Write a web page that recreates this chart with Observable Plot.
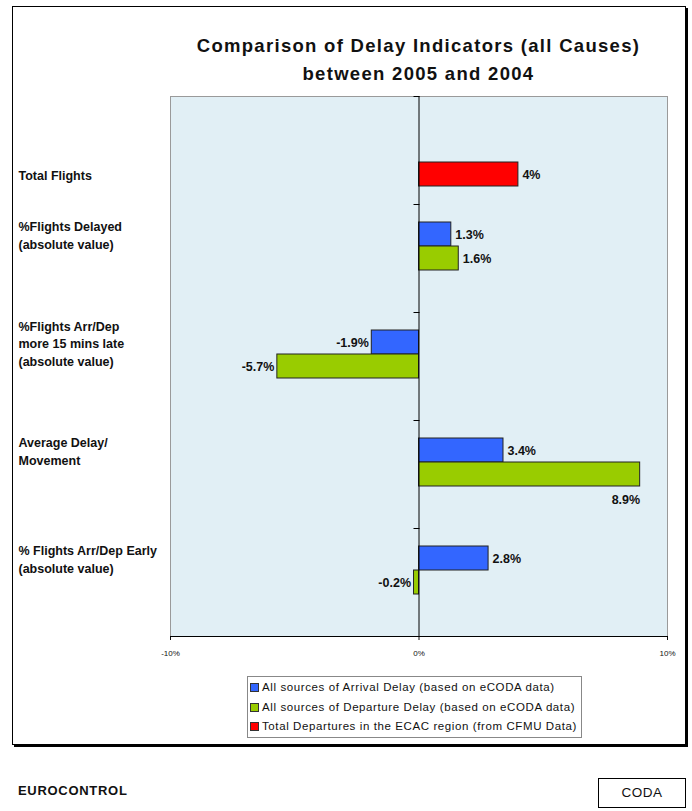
<!DOCTYPE html>
<html>
<head>
<meta charset="utf-8">
<script src="https://cdn.jsdelivr.net/npm/d3@7"></script>
<script src="https://cdn.jsdelivr.net/npm/@observablehq/plot@0.6"></script>
<style>
  html, body { margin: 0; padding: 0; background: #fff; }
  body { width: 692px; height: 811px; position: relative; font-family: "Liberation Sans", Arial, sans-serif; overflow: hidden; }
  #frame { position: absolute; left: 12px; top: 6px; width: 672px; height: 737px; border: 1px solid #000; box-shadow: 2px 2px 0 #000; }
  #title { position: absolute; left: 120px; width: 597px; top: 32px; text-align: center; font-weight: bold; font-size: 18.5px; letter-spacing: 1.3px; line-height: 28px; color: #111; }
  #chart { position: absolute; left: 0; top: 80px; }
  #legend { position: absolute; left: 247px; top: 676px; width: 333px; height: 59px; border: 1px solid #888; font-size: 11.5px; letter-spacing: 0.6px; color: #111; padding-top: 1px; box-sizing: content-box; }
  #legend .row { height: 19.5px; line-height: 19.5px; white-space: nowrap; padding-left: 2px; }
  #legend .sw { display: inline-block; width: 7px; height: 7px; border: 1px solid #333; margin-right: 3px; vertical-align: -1px; }
  #footer-left { position: absolute; left: 18px; top: 783px; font-weight: bold; font-size: 13px; letter-spacing: 0.7px; color: #111; }
  #coda { position: absolute; left: 598px; top: 778px; width: 86px; height: 28px; border: 1px solid #000; text-align: center; line-height: 28px; font-size: 13.5px; letter-spacing: 0.5px; color: #111; }
</style>
</head>
<body>
<div id="frame"></div>
<div id="title">Comparison of Delay Indicators (all Causes)<br>between 2005 and 2004</div>
<div id="chart"></div>
<div id="legend"></div>
<div id="footer-left">EUROCONTROL</div>
<div id="coda">CODA</div>
<script>
// ---- data ----
const categories = [
  "Total Flights",
  "%Flights Delayed\n(absolute value)",
  "%Flights Arr/Dep\nmore 15 mins late\n(absolute value)",
  "Average Delay/\nMovement",
  "% Flights Arr/Dep Early\n(absolute value)"
];
const seriesKeys = ["arr", "dep", "tot"];
const seriesNames = [
  "All sources of Arrival Delay (based on eCODA data)",
  "All sources of Departure Delay (based on eCODA data)",
  "Total Departures in the ECAC region (from CFMU Data)"
];
const seriesColors = ["#3366ff", "#99cc00", "#ff0000"];
const arrival   = [null, 1.3, -1.9, 3.4, 2.8];
const departure = [null, 1.6, -5.7, 8.9, -0.2];
const total     = [4, null, null, null, null];
const xTicks = [-10, 0, 10];

// ---- build table ----
const rows = [];
[arrival, departure, total].forEach((arr, si) => {
  arr.forEach((v, ci) => {
    if (v != null) rows.push({category: categories[ci], series: seriesKeys[si], value: v});
  });
});
const labelRows = categories.map(c => ({
  category: c,
  series: rows.find(r => r.category === c).series
}));

// ---- layout ----
const W = 692, mL = 170, mR = 25, mT = 16, mB = 25, frameH = 540;
const H = mT + frameH + mB;
const fw = W - mL - mR;

const valueText = {fontWeight: "bold", fontSize: 12.5, style: "letter-spacing:0.3px"};

const chart = Plot.plot({
  width: W, height: H,
  marginLeft: mL, marginRight: mR, marginTop: mT, marginBottom: mB,
  style: {fontFamily: "Liberation Sans, Arial, sans-serif", fontSize: "8px", background: "transparent", color: "#111"},
  x: {domain: [-10, 10], ticks: xTicks, tickFormat: d => d + "%", tickSize: 4, tickPadding: 10, label: null},
  y: {domain: seriesKeys, paddingInner: 0, paddingOuter: 0.75, axis: null},
  fy: {domain: categories, padding: 0, axis: null},
  color: {domain: seriesKeys, range: seriesColors},
  marks: [
    Plot.frame({fill: "#e1eff5", stroke: null, shapeRendering: "crispEdges"}),
    Plot.frame({anchor: "left", stroke: "#9a9a9a"}),
    Plot.frame({anchor: "right", stroke: "#9a9a9a"}),
    Plot.frame({anchor: "top", stroke: "#9a9a9a", facetAnchor: "top"}),
    Plot.barX(rows, {fy: "category", y: "series", x: "value", fill: "series", stroke: "#222", strokeWidth: 1}),
    Plot.ruleX([0], {stroke: "#000", strokeWidth: 1}),
    Plot.frame({anchor: "top", stroke: "#000", insetLeft: fw / 2 - 5, insetRight: fw / 2}),
    Plot.frame({anchor: "bottom", stroke: "#000", facetAnchor: "bottom"}),
    Plot.text(rows.filter(d => d.value >= 0 && d.value <= 8), {
      fy: "category", y: "series", x: "value", text: d => d.value + "%",
      textAnchor: "start", dx: 4, ...valueText
    }),
    Plot.text(rows.filter(d => d.value > 8), {
      fy: "category", y: "series", x: "value", text: d => d.value + "%",
      textAnchor: "end", dy: 25, ...valueText
    }),
    Plot.text(rows.filter(d => d.value < 0), {
      fy: "category", y: "series", x: "value", text: d => d.value + "%",
      textAnchor: "end", dx: -3, ...valueText
    }),
    Plot.text(labelRows, {
      fy: "category", y: "series", text: "category", frameAnchor: "left",
      dx: -152, dy: 0, textAnchor: "start", fontWeight: "bold", fontSize: 12.5, lineHeight: 1.4,
      style: "letter-spacing:0.3px"
    })
  ]
});
document.getElementById("chart").appendChild(chart);

// ---- legend ----
const legend = document.getElementById("legend");
seriesKeys.forEach((k, i) => {
  const row = document.createElement("div");
  row.className = "row";
  const sw = document.createElement("span");
  sw.className = "sw";
  sw.style.background = seriesColors[i];
  row.appendChild(sw);
  row.appendChild(document.createTextNode(seriesNames[i]));
  legend.appendChild(row);
});
</script>
</body>
</html>
